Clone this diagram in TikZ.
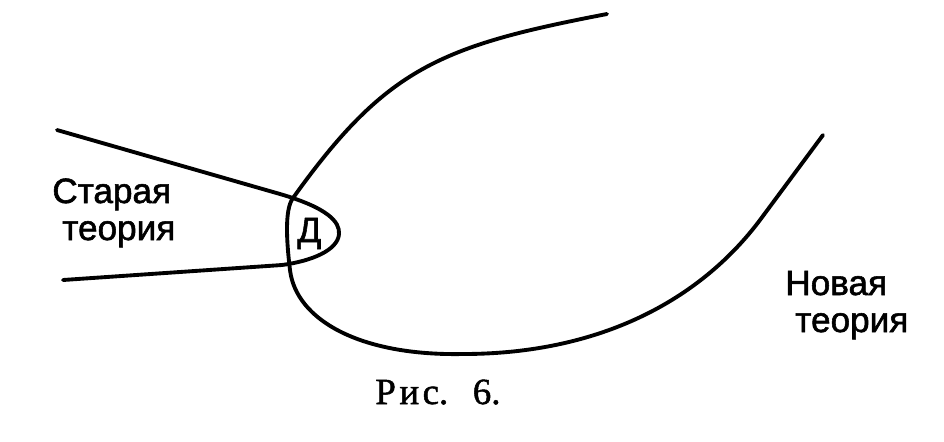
\documentclass[tikz,border=0pt]{standalone}
\usepackage{fontspec}
\setmainfont{Liberation Serif}
\setsansfont{Liberation Sans}
\newfontfamily\labelfont[FakeBold=1.6]{Liberation Sans}
\newfontfamily\capfont[FakeBold=1.4]{Liberation Serif}
\usepackage{tikz}

\begin{document}
\begin{tikzpicture}[x=0.02cm,y=-0.02cm]
\tikzstyle{every node}+=[inner sep=0pt]
\tikzstyle{curve}=[black,line width=2.2pt,line cap=round,line join=round]
\tikzstyle{label}=[anchor=base west,font=\labelfont\fontsize{20}{22}\selectfont]
\useasboundingbox (0,0) rectangle (944,441);
% old theory
\draw [curve] (57,130) -- (280,194) .. controls (328,208) and (340,222) .. (339,234)
  .. controls (338,250) and (312,261) .. (282,265) -- (63,280);
% new theory
\draw [curve] (607,14) .. controls (440,46) and (386,68) .. (293,198)
  .. controls (284,210) and (287,245) .. (290,270)
  .. controls (296,320) and (360,356) .. (463,354)
  .. controls (600,354) and (700,300) .. (760,220) -- (823,135);
\node (old1) [label] at (52,203) {Старая};
\node (old2) [label] at (62,240) {теория};
\node (new1) [label] at (785,295) {Новая};
\node (new2) [label] at (795,332) {теория};
\node (dom) [label] at (297,242) {Д};
\node (cap) [anchor=base west,font=\capfont\fontsize{21}{24}\selectfont] at (375,404)
  {Р\kern2pt и\kern2pt с.\kern14pt 6.};
\end{tikzpicture}
\end{document}
